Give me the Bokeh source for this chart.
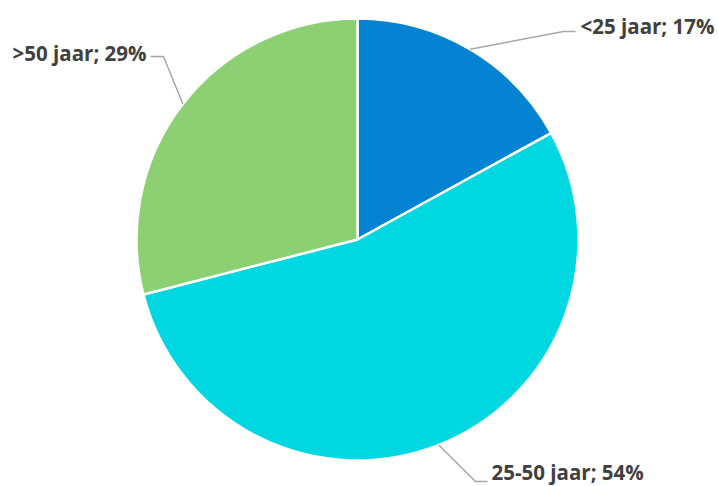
import math
from bokeh.plotting import figure
from bokeh.models import Range1d, ColumnDataSource
from bokeh.core.properties import value
from bokeh.embed import file_html
from bokeh.resources import INLINE

# data
categories = ["<25 jaar", "25-50 jaar", ">50 jaar"]
percentages = [17, 54, 29]
colors = ["#0483D3", "#00D7E1", "#8DCF73"]

# layout (screen pixels, y measured from page top)
W, H = 718, 486
CX, CY, R = 357, 239, 221
# per label: elbow point, leader end, text anchor, text align
elbows = [(563, 31), (475, 481), (163, 56)]
ends = [(575, 31), (487, 481), (150, 56)]
text_pos = [(580, 25), (491, 471), (146, 52)]
aligns = ["left", "left", "right"]


def Y(ys):
    return H - ys


p = figure(width=W, height=H, x_range=Range1d(0, W), y_range=Range1d(0, H),
           output_backend="svg", toolbar_location=None, min_border=0,
           x_axis_type=None, y_axis_type=None)
p.grid.visible = False
p.outline_line_color = None
p.background_fill_color = "white"
p.border_fill_color = "white"

total = sum(percentages)
starts, endsang, mids = [], [], []
cum = 0.0
for v in percentages:
    c0 = cum / total
    c1 = (cum + v) / total
    starts.append(math.pi / 2 - 2 * math.pi * c1)
    endsang.append(math.pi / 2 - 2 * math.pi * c0)
    mids.append(math.pi / 2 - 2 * math.pi * (c0 + c1) / 2)
    cum += v

src = ColumnDataSource(dict(start=starts, end=endsang, color=colors))
p.wedge(x=CX, y=Y(CY), radius=R, start_angle="start", end_angle="end",
        direction="anticlock", fill_color="color", line_color="white", line_width=2.5,
        source=src)

for i, m in enumerate(mids):
    sx = CX + R * math.cos(m)
    sy = Y(CY) + R * math.sin(m)
    xs = [sx, elbows[i][0], ends[i][0]]
    ys = [sy, Y(elbows[i][1]), Y(ends[i][1])]
    p.line(xs, ys, line_color="#A6A6A6", line_width=1.5)
    label = f"{categories[i]}; {percentages[i]}%"
    p.text(x=[text_pos[i][0]], y=[Y(text_pos[i][1])], text=[label],
           text_font=value("Open Sans"), text_font_style="bold", text_font_size="20.5px",
           text_color="#404040", text_align=aligns[i], text_baseline="middle")

open("out.html", "w").write(file_html(p, INLINE))
